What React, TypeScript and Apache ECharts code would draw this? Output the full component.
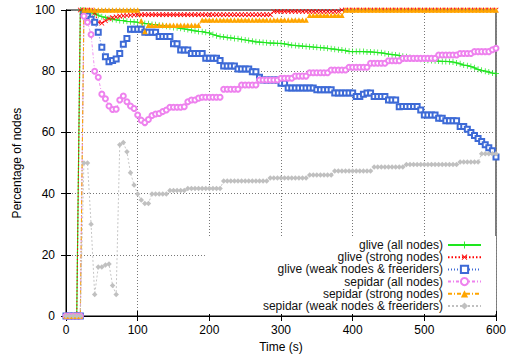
import React, { useEffect, useRef } from "react";
import * as echarts from "echarts";

const TIMES: number[] = Array.from({ length: 121 }, (_, i) => i * 5);

const X_TICKS = [0, 100, 200, 300, 400, 500, 600];
const Y_TICKS = [0, 20, 40, 60, 80, 100];

const GLIVE_ALL = [
  0, 0, 0, 0, 100, 100, 99.7, 99.3, 98.8, 98.3,
  97.8, 97.5, 97.2, 97, 96.8, 96.6, 96.5, 96.3, 96.2, 96.1,
  96, 95.8, 95.6, 95.5, 95.3, 95.2, 95, 94.9, 94.7, 94.5,
  94.3, 94.2, 94, 93.8, 93.6, 93.4, 93.2, 93, 92.9, 92.7,
  92.5, 92, 91.6, 91.3, 91.2, 91, 90.9, 90.7, 90.6, 90.4,
  90.2, 90, 89.8, 89.6, 89.5, 89.4, 89.3, 89.2, 89.2, 89.1,
  89.1, 88.9, 88.7, 88.5, 88.4, 88.3, 88.2, 88.1, 88, 87.9,
  87.8, 87.7, 87.6, 87.5, 87.3, 87.2, 87, 86.9, 86.7, 86.5,
  86.4, 86.4, 86.4, 86.4, 86.3, 86.3, 86.2, 86.1, 86, 85.8,
  85.6, 85.4, 85.3, 85.1, 84.9, 84.7, 84.5, 84.3, 84.1, 83.9,
  83.7, 83.6, 83.5, 83.4, 83.3, 83.2, 83.2, 83.1, 83, 82.7,
  82.4, 82, 81.8, 81.5, 81.1, 80.6, 80.3, 80, 79.7, 79.4,
  79.2,
];

const GLIVE_STRONG = [
  0, 0, 0, 0, 100, 100, 100, 100, 99, 96,
  95.7, 96.5, 97.2, 97.5, 97.8, 98, 98.1, 98.2, 98.3, 98.4,
  98.5, 98.5, 98.5, 98.5, 98.5, 98.5, 98.5, 98.5, 98.5, 98.5,
  98.5, 98.5, 98.5, 98.5, 98.5, 98.5, 98.5, 98.5, 98.5, 98.5,
  98.5, 98.5, 98.5, 98.5, 98.5, 98.5, 98.5, 98.5, 98.5, 98.5,
  98.5, 98.5, 98.5, 98.5, 98.5, 98.5, 98.5, 98.5, 99.5, 99.5,
  99.5, 99.5, 99.5, 99.5, 99.5, 99.5, 99.5, 99.5, 99.5, 99.5,
  99.5, 99.5, 99.5, 99.5, 99.5, 99.5, 99.5, 100, 100, 100,
  100, 100, 100, 100, 100, 100, 100, 100, 100, 100,
  100, 100, 100, 100, 100, 100, 100, 100, 100, 100,
  100, 100, 100, 100, 100, 100, 100, 100, 100, 100,
  100, 100, 100, 100, 100, 100, 100, 100, 100, 100,
  100,
];

const GLIVE_WEAK = [
  0, 0, 0, 0, 0, 98.5, 98, 97, 96, 92.7,
  87.8, 84.7, 83.1, 83.5, 84, 85.8, 88.8, 90.7, 93.7, 93.7,
  93.7, 93.7, 92.7, 92.7, 92.7, 92.7, 91.3, 91.3, 91.3, 91.3,
  89, 89, 86.9, 86.9, 86.9, 85.8, 85.8, 85.8, 85.8, 84.2,
  84.2, 84.2, 84.2, 83.5, 81.7, 81.7, 81.7, 81.7, 80.7, 80.7,
  80.7, 80.7, 79.8, 79.8, 78, 77.1, 77.1, 77.1, 77.1, 77.1,
  76.1, 76.1, 74.5, 74.5, 74.5, 74.5, 74.5, 74.5, 74.5, 74.5,
  73.9, 73.9, 73.9, 73.9, 73.9, 72.9, 72.9, 72.9, 72.9, 72.9,
  72.9, 71.7, 71.7, 72.5, 72.9, 72.9, 71.7, 71.7, 71.7, 71.7,
  70.6, 70.6, 70.6, 68.4, 68.5, 68.5, 68.5, 68.5, 68.5, 67.3,
  65.7, 65.7, 65.7, 65.7, 64.6, 64.6, 63.8, 63.8, 63.8, 63.8,
  61.9, 61.9, 61, 60, 59, 58, 57, 56, 55, 54,
  52,
];

const SEPIDAR_ALL = [
  0, 0, 0, 0, 0, 98, 96, 92, 80, 78,
  72.5, 71, 68.6, 67.5, 67.6, 70.6, 71.9, 70, 68.6, 67.8,
  65.7, 64, 63.2, 64.2, 65.5, 66, 66.2, 66.8, 67.3, 68.2,
  68.2, 68.2, 68.2, 68.4, 70, 70.6, 70.6, 71.2, 71.5, 71.5,
  71.5, 71.5, 71.5, 71.5, 74.1, 74.1, 74.1, 74.1, 74.1, 75.5,
  75.5, 75.5, 75.5, 75.5, 77.1, 77.1, 77.1, 77.1, 77.1, 77.1,
  77.7, 77.7, 77.7, 77.7, 78.4, 78.4, 78.4, 78.4, 79.5, 79.5,
  79.5, 79.5, 79.5, 79.5, 80.4, 80.4, 80.4, 80.4, 80.4, 81.3,
  81.3, 81.3, 81.3, 81.3, 81.3, 82.6, 82.6, 82.6, 82.6, 82.6,
  83.4, 83.4, 83.4, 83.4, 84.2, 84.2, 84.2, 84.2, 84.2, 84.2,
  84.2, 84.2, 84.2, 84.2, 85.3, 85.3, 85.3, 85.3, 85.3, 85.3,
  85.8, 85.8, 85.8, 85.8, 86.4, 86.4, 86.4, 86.4, 86.4, 87,
  87.5,
];

const SEPIDAR_STRONG = [
  0, 0, 0, 0, 0, 100, 100, 100, 100, 100,
  100, 100, 100, 100, 100, 100, 100, 100, 100, 100,
  100, 96.5, 93, 95, 95, 95, 95, 95, 95, 95,
  95, 95, 95, 95, 95, 95, 95, 95, 96.7, 96.7,
  96.7, 96.7, 96.7, 96.7, 96.7, 96.7, 96.7, 96.7, 96.7, 96.7,
  96.7, 96.7, 96.7, 96.7, 96.7, 96.7, 96.7, 96.7, 96.7, 96.7,
  96.7, 96.7, 96.7, 96.7, 96.7, 96.7, 96.7, 96.7, 98.3, 98.3,
  98.3, 98.3, 98.3, 98.3, 98.3, 98.3, 98.3, 98.3, 100, 100,
  100, 100, 100, 100, 100, 100, 100, 100, 100, 100,
  100, 100, 100, 100, 100, 100, 100, 100, 100, 100,
  100, 100, 100, 100, 100, 100, 100, 100, 100, 100,
  100, 100, 100, 100, 100, 100, 100, 100, 100, 100,
  100,
];

const SEPIDAR_WEAK = [
  0, 0, 0, 0, 0, 50, 50, 30, 7, 16,
  16, 16.7, 17, 10, 7, 56, 56.7, 53.7, 46.8, 42.8,
  39.9, 37.9, 36.8, 36.8, 39.9, 39.9, 39.9, 39.9, 39.9, 41,
  41, 41, 41, 41, 41.7, 41.7, 41.7, 41.7, 41.7, 41.7,
  41.7, 41.7, 41.7, 41.7, 44.1, 44.1, 44.1, 44.1, 44.1, 44.1,
  44.1, 44.1, 44.1, 44.1, 44.1, 44.1, 44.1, 45.1, 45.1, 45.1,
  45.1, 45.1, 45.1, 45.1, 45.1, 45.1, 45.1, 45.1, 46.1, 46.1,
  46.1, 46.1, 46.1, 46.1, 46.1, 47.4, 47.4, 47.4, 47.4, 47.4,
  47.4, 47.4, 47.4, 47.4, 47.4, 47.4, 48.7, 48.7, 48.7, 48.7,
  48.7, 48.7, 48.7, 48.7, 48.7, 49.5, 49.5, 49.5, 49.5, 49.5,
  49.5, 49.5, 49.5, 49.5, 49.5, 49.5, 49.5, 49.5, 49.5, 49.5,
  50.3, 50.3, 50.3, 50.3, 50.3, 50.3, 53, 53, 53, 53,
  53,
];

const SERIES_NAMES = [
  "glive (all nodes)",
  "glive (strong nodes)",
  "glive (weak nodes & freeriders)",
  "sepidar (all nodes)",
  "sepidar (strong nodes)",
  "sepidar (weak nodes & freeriders)",
];

const FONT = "Liberation Sans, Arial, Helvetica, sans-serif";
const PLUS = "path://M4.4,0H5.6V4.4H10V5.6H5.6V10H4.4V5.6H0V4.4H4.4Z";

const pairs = (vals: number[]) => vals.map((v, i) => [TIMES[i], v]);

export default function App() {
  const ref = useRef<HTMLDivElement>(null);
  useEffect(() => {
    const chart = echarts.init(ref.current!, null, { renderer: "svg" });
    const gridLine = { show: true, lineStyle: { color: "#777", type: [1, 2], width: 1 } };
    const option: any = {
      animation: false,
      backgroundColor: "#fff",
      textStyle: { fontFamily: FONT },
      grid: { left: 66, top: 10, right: 11, bottom: 42, show: true, borderColor: "#000", borderWidth: 1 },
      xAxis: [
        {
          type: "value", min: X_TICKS[0], max: X_TICKS[X_TICKS.length - 1], interval: 100,
          name: "Time (s)", nameLocation: "middle", nameGap: 25,
          nameTextStyle: { fontSize: 12, color: "#000", fontFamily: FONT },
          axisLine: { show: true, lineStyle: { color: "#000", width: 1 } },
          axisTick: { show: true, inside: true, length: 5, lineStyle: { color: "#000" } },
          axisLabel: { fontSize: 12, color: "#000", margin: 8, fontFamily: FONT },
          splitLine: gridLine,
        },
        {
          type: "value", position: "top", min: 0, max: 600, interval: 100,
          axisLine: { show: true, lineStyle: { color: "#000" } },
          axisTick: { show: true, inside: true, length: 5, lineStyle: { color: "#000" } },
          axisLabel: { show: false }, splitLine: { show: false },
        },
      ],
      yAxis: [
        {
          type: "value", min: Y_TICKS[0], max: Y_TICKS[Y_TICKS.length - 1], interval: 20,
          name: "Percentage of nodes", nameLocation: "middle", nameGap: 43,
          nameTextStyle: { fontSize: 12, color: "#000", fontFamily: FONT },
          axisLine: { show: true, lineStyle: { color: "#000", width: 1 } },
          axisTick: { show: true, inside: true, length: 5, lineStyle: { color: "#000" } },
          axisLabel: { fontSize: 12, color: "#000", margin: 11, fontFamily: FONT },
          splitLine: gridLine,
        },
        {
          type: "value", position: "right", min: 0, max: 100, interval: 20,
          axisLine: { show: true, lineStyle: { color: "#000" } },
          axisTick: { show: true, inside: true, length: 5, lineStyle: { color: "#000" } },
          axisLabel: { show: false }, splitLine: { show: false },
        },
      ],
      legend: {
        orient: "vertical", right: 13, top: 236, align: "right",
        padding: [3, 14, 2, 58], backgroundColor: "#fff",
        itemWidth: 33, itemHeight: 9, itemGap: 0.2,
        textStyle: { fontSize: 12, color: "#111", fontFamily: FONT, lineHeight: 12, height: 12 },
        data: SERIES_NAMES,
      },
      series: [
        {
          name: SERIES_NAMES[0], type: "line", data: pairs(GLIVE_ALL),
          symbol: PLUS, symbolSize: 6, showAllSymbol: true,
          lineStyle: { color: "#1ee61e", width: 1.2 }, itemStyle: { color: "#1ee61e" },
        },
        {
          name: SERIES_NAMES[1], type: "line", data: pairs(GLIVE_STRONG),
          symbol: PLUS, symbolRotate: 45, symbolSize: 6.5, showAllSymbol: true,
          lineStyle: { color: "#ff0000", width: 1.1, type: [1.5, 2] }, itemStyle: { color: "#ff0000" },
        },
        {
          name: SERIES_NAMES[2], type: "line", data: pairs(GLIVE_WEAK),
          symbol: "emptyRect", symbolSize: 5, showAllSymbol: true,
          lineStyle: { color: "#3d6ad6", width: 0.9, type: [1, 2] },
          itemStyle: { color: "#3d6ad6", borderWidth: 1 },
        },
        {
          name: SERIES_NAMES[3], type: "line", data: pairs(SEPIDAR_ALL),
          symbol: "emptyCircle", symbolSize: 5, showAllSymbol: true,
          lineStyle: { color: "#ee82ee", width: 0.9, type: [3, 2, 1, 2] },
          itemStyle: { color: "#ee82ee", borderWidth: 1 },
        },
        {
          name: SERIES_NAMES[4], type: "line", data: pairs(SEPIDAR_STRONG),
          symbol: "triangle", symbolSize: 5.5, showAllSymbol: true,
          lineStyle: { color: "#ffa500", width: 1.1, type: [4, 2, 1, 2] }, itemStyle: { color: "#ffa500" },
        },
        {
          name: SERIES_NAMES[5], type: "line", data: pairs(SEPIDAR_WEAK),
          symbol: "diamond", symbolSize: 5.5, showAllSymbol: true,
          lineStyle: { color: "#c0c0c0", width: 0.9, type: [2, 2] }, itemStyle: { color: "#c0c0c0" },
        },
      ],
    };
    chart.setOption(option);
    return () => chart.dispose();
  }, []);
  return <div ref={ref} style={{ position: "absolute", left: 0, top: 0, width: 509, height: 358 }} />;
}
